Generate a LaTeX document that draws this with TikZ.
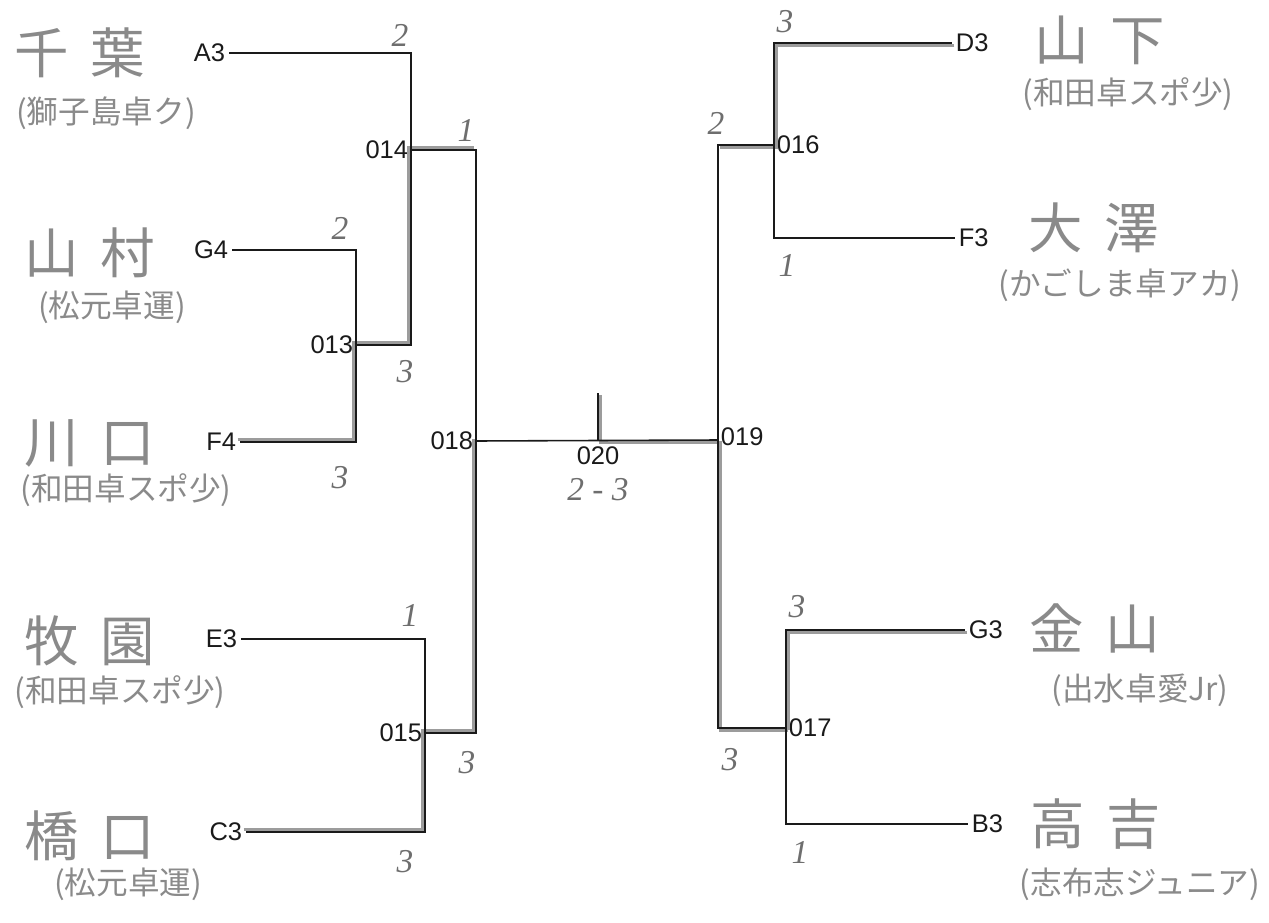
\documentclass[tikz,border=0pt]{standalone}
\usepackage{fontspec}
\setmainfont{Liberation Sans}
\newfontfamily\jpfont{Noto Sans CJK JP}
\newfontfamily\scorefont{Liberation Serif}
\usepackage{tikz}
\usetikzlibrary{positioning}
\definecolor{bracketink}{HTML}{1A1A1A}
\definecolor{pencilgray}{HTML}{8A8A8A}
\definecolor{markergray}{HTML}{9C9C9C}
\definecolor{scoregray}{HTML}{6E6E6E}

\begin{document}
\begin{tikzpicture}[x=0.02cm, y=-0.02cm,
    slot/.style={font=\fontsize{14.5}{16}\selectfont, inner sep=2pt, text=bracketink},
    mlab/.style={font=\fontsize{14.5}{16}\selectfont, inner sep=1.5pt, text=bracketink},
    pname/.style={font=\jpfont\fontsize{31}{34}\selectfont, text=pencilgray, inner sep=0pt},
    psub/.style={font=\jpfont\fontsize{18}{20}\selectfont, text=pencilgray, inner sep=0pt},
    score/.style={font=\scorefont\itshape\fontsize{19}{21}\selectfont, text=scoregray, inner sep=0pt},
    bline/.style={draw=bracketink, line width=0.9pt},
    winl/.style={draw=markergray, line width=2pt, transform canvas={shift={(-1.3pt,1.3pt)}}},
    winr/.style={draw=markergray, line width=2pt, transform canvas={shift={(1.3pt,-1.3pt)}}}
  ]
    \useasboundingbox (0,0) rectangle (1269,923);

    % match points
    \coordinate (c014) at (411,150);
    \coordinate (c013) at (356,345);
    \coordinate (c015) at (425,733);
    \coordinate (c018) at (476,441);
    \coordinate (c020) at (598,440);
    \coordinate (t020) at (598,393);
    \coordinate (c019) at (718,440);
    \coordinate (c016) at (774,145);
    \coordinate (c017) at (786,728);

    % slots
    \node[slot, anchor=east] (a3) at (229,53) {A3};
    \node[slot, anchor=east] (g4) at (232,250) {G4};
    \node[slot, anchor=east] (f4) at (240,442) {F4};
    \node[slot, anchor=east] (e3) at (241,639) {E3};
    \node[slot, anchor=east] (c3) at (246,832) {C3};
    \node[slot, anchor=west] (d3) at (952,43) {D3};
    \node[slot, anchor=west] (f3) at (955,238) {F3};
    \node[slot, anchor=west] (g3) at (965,630) {G3};
    \node[slot, anchor=west] (b3) at (968,824) {B3};

    % match labels
    \node[mlab, anchor=east] (l014) at (c014) {014};
    \node[mlab, anchor=east] (l013) at (c013) {013};
    \node[mlab, anchor=east] (l015) at (c015) {015};
    \node[mlab, anchor=east] (l018) at (c018) {018};
    \node[mlab, anchor=north] (l020) at ([yshift=-2pt]c020) {020};
    \node[mlab, anchor=west] (l019) at ([yshift=2pt]c019) {019};
    \node[mlab, anchor=west] (l016) at (c016) {016};
    \node[mlab, anchor=west] (l017) at (c017) {017};

    % players
    \node[pname] (nchiba) at (80,53) {千\hspace{0.4em}葉};
    \node[psub] (tchiba) at (106,113) {(獅子島卓ク)};
    \node[pname] (nyamamura) at (90,253) {山\hspace{0.4em}村};
    \node[psub] (tyamamura) at (112,307) {(松元卓運)};
    \node[pname] (nkawaguchi) at (90,443) {川\hspace{0.4em}口};
    \node[psub] (tkawaguchi) at (126,490) {(和田卓スポ少)};
    \node[pname] (nmakizono) at (90,641) {牧\hspace{0.4em}園};
    \node[psub] (tmakizono) at (120,692) {(和田卓スポ少)};
    \node[pname] (nhashiguchi) at (90,836) {橋\hspace{0.4em}口};
    \node[psub] (thashiguchi) at (128,884) {(松元卓運)};
    \node[pname] (nyamashita) at (1100,40) {山\hspace{0.4em}下};
    \node[psub] (tyamashita) at (1128,94) {(和田卓スポ少)};
    \node[pname] (nosawa) at (1094,228) {大\hspace{0.4em}澤};
    \node[psub] (tosawa) at (1120,285) {(かごしま卓アカ)};
    \node[pname] (nkanayama) at (1095,628) {金\hspace{0.4em}山};
    \node[psub] (tkanayama) at (1140,690) {(出水卓愛Jr)};
    \node[pname] (ntakayoshi) at (1096,824) {高\hspace{0.4em}吉};
    \node[psub] (ttakayoshi) at (1140,884) {(志布志ジュニア)};

    % winners
    \draw[winl] (f4.east) -| (c013) -| (c014) -- (c014 -| c018);
    \draw[winl] (c3.east) -| (c015) -| (c018);
    \draw[winr] (c017) -| (c019) -- (c020) -- (t020);
    \draw[winr] (d3.west) -| (c016) -- (c016 -| c019);
    \draw[winr] (g3.west) -| (c017);

    % bracket
    \draw[bline] (a3.east) -| (c014) |- (c013);
    \draw[bline] (g4.east) -| (c013) |- (f4.east);
    \draw[bline] (c014) -| (c018) |- (c015);
    \draw[bline] (e3.east) -| (c015) |- (c3.east);
    \draw[bline] (c018) -- (c019);
    \draw[bline] (c020) -- (t020);
    \draw[bline] (c016) -| (c019) |- (c017);
    \draw[bline] (d3.west) -| (c016) |- (f3.west);
    \draw[bline] (g3.west) -| (c017) |- (b3.west);

    % scores
    \node[score] (sa3) at (400,35) {2};
    \node[score] (s014) at (466,130) {1};
    \node[score] (sg4) at (340,228) {2};
    \node[score] (s013) at (405,372) {3};
    \node[score] (sf4) at (340,478) {3};
    \node[score] (se3) at (410,615) {1};
    \node[score] (s015) at (467,763) {3};
    \node[score] (sc3) at (405,862) {3};
    \node[score] (s020) at (598,490) {2 - 3};
    \node[score] (sd3) at (785,22) {3};
    \node[score] (s016) at (716,123) {2};
    \node[score] (sf3) at (787,265) {1};
    \node[score] (sg3) at (797,607) {3};
    \node[score] (s017) at (730,760) {3};
    \node[score] (sb3) at (800,852) {1};
  \end{tikzpicture}
\end{document}
